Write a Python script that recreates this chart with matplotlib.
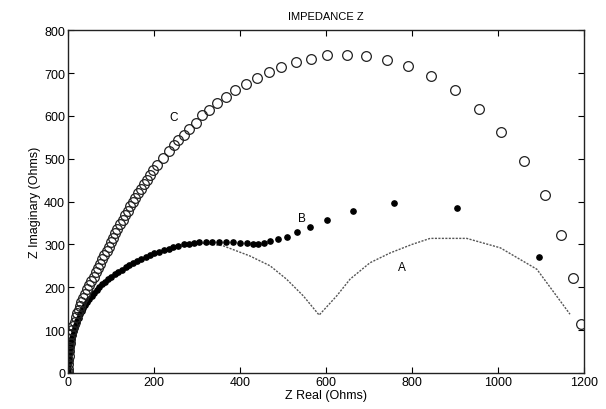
import matplotlib
matplotlib.use("Agg")
import matplotlib.pyplot as plt

plt.rcParams["font.family"] = ["Liberation Sans", "DejaVu Sans"]

# curve C (open circles)
c_x = [1193, 1174, 1147, 1109, 1059, 1007, 956, 899, 843, 791, 741, 693, 648,
       602, 565, 530, 495, 467, 439, 413, 388, 367, 346, 327, 312, 297, 281,
       270, 257, 246, 234, 220, 206, 198, 190, 183, 176, 169, 163, 157, 151,
       145, 139, 133, 127, 121, 115, 110, 105, 100, 95, 90, 85, 80, 75, 71,
       66, 60, 54, 49, 44, 39, 35, 31, 28, 25, 22, 19, 16, 12, 9, 7, 5, 4, 3,
       2, 1.5, 1, 0.5, 0, 0]
c_y = [114, 221, 322, 416, 494, 563, 616, 660, 693, 716, 730, 740, 743,
       741, 733, 726, 714, 702, 688, 674, 660, 645, 631, 614, 602, 584, 569,
       556, 544, 532, 517, 502, 486, 474, 462, 451, 440, 429, 419, 409, 399,
       389, 379, 369, 358, 347, 336, 326, 315, 305, 295, 285, 275, 265, 255,
       245, 235, 225, 215, 205, 195, 185, 175, 166, 157, 148, 141, 130, 120,
       110, 100, 90, 80, 70, 60, 50, 40, 30, 20, 10, 2]

# curve B (filled dots)
b_x = [0, 0.5, 1, 1.5, 2, 3, 4, 5, 6.5, 8, 10, 12, 14, 16.5, 19, 22, 25, 28,
       32, 36, 40, 45, 50, 55, 61, 67, 73, 80, 87, 94, 101, 109, 117, 125,
       134, 143, 152, 161, 171, 181, 191, 201, 212, 223, 234, 245, 257, 269,
       281, 293, 305, 320, 336, 352, 368, 384, 400, 416, 430, 443, 456, 470,
       489, 509, 532, 563, 602, 662, 758, 904, 1094]
b_y = [3, 10, 18, 26, 33, 41, 49, 57, 65, 73, 81, 89, 97, 105, 113, 121, 129,
       137, 144, 152, 159, 166, 173, 180, 187, 194, 200, 207, 213, 219, 225,
       231, 236, 241, 247, 252, 257, 262, 266, 271, 275, 279, 283, 287, 290,
       294, 297, 300, 302, 304, 305, 305, 305, 305, 305, 305, 304, 303, 302,
       302, 304, 307, 312, 318, 329, 340, 358, 379, 397, 384, 271]

# curve A (dotted line)
a_x = [0, 2, 5, 12, 25, 45, 70, 100, 140, 190, 245, 300, 360, 423, 470, 508,
       547, 584, 625, 656, 702, 749, 800, 842, 927, 1005, 1090, 1167]
a_y = [0, 33, 57, 89, 129, 166, 200, 225, 247, 275, 294, 304, 297, 273, 250,
       219, 180, 135, 180, 219, 257, 280, 300, 314, 314, 292, 242, 137]

fig = plt.figure(figsize=(6.06, 4.10), dpi=100)
ax = fig.add_axes([0.112, 0.088, 0.852, 0.836])

ax.plot(a_x, a_y, linestyle=(0, (1.5, 1)), color="#555555", linewidth=1.0)
ax.plot(b_x, b_y, "o", color="black", markersize=3.8, linestyle="none")
ax.plot(c_x, c_y, "o", markerfacecolor="none", markeredgecolor="#222222",
        markersize=7, markeredgewidth=0.9, linestyle="none")

ax.text(246, 597, "C", fontsize=8.5, ha="center", va="center")
ax.text(543, 362, "B", fontsize=8.5, ha="center", va="center")
ax.text(777, 248, "A", fontsize=8.5, ha="center", va="center")

ax.set_xlim(0, 1200)
ax.set_ylim(0, 800)
ax.set_xticks(range(0, 1201, 200))
ax.set_yticks(range(0, 801, 100))
ax.tick_params(direction="in", top=True, right=True, length=4, labelsize=9,
               pad=2)
for s in ax.spines.values():
    s.set_linewidth(1.0)
    s.set_color("#222222")

ax.set_title("IMPEDANCE Z", fontsize=8, pad=8)
ax.set_xlabel("Z Real (Ohms)", fontsize=9, labelpad=1)
ax.set_ylabel("Z Imaginary (Ohms)", fontsize=9, labelpad=2)

fig.savefig("out.png", dpi=100)
